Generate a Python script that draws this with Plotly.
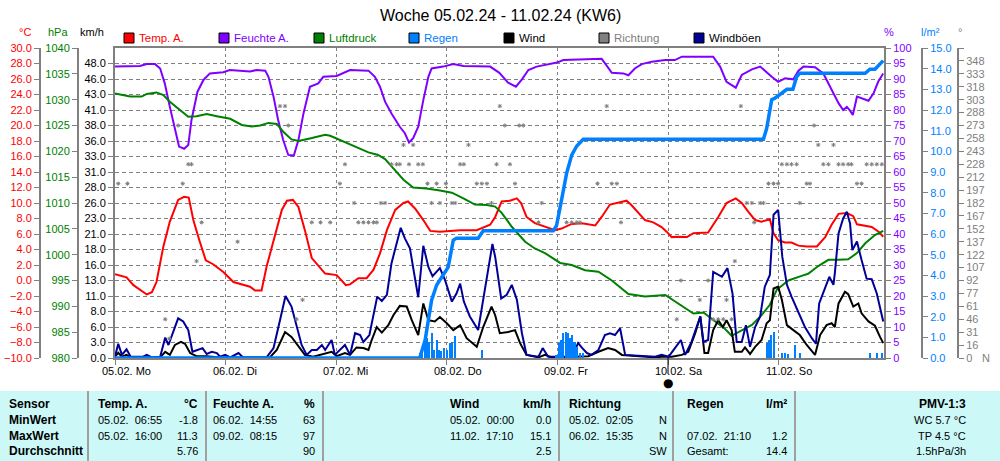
import pandas as pd
import plotly.graph_objects as go

# ---------------- data (hours since 05.02.24 00:00, value) ----------------
START = pd.Timestamp("2024-02-05 00:00")
END = pd.Timestamp("2024-02-11 22:52")

temperature = [(0, 0.8), (2.5, 0.4), (4.0, -0.6), (5.8, -1.4), (6.9, -1.8), (8.0, -1.5), (9.0, -0.2),
               (10.5, 4.4), (11.9, 7.6), (13.7, 10.4), (15.0, 10.8), (16.0, 10.7), (17.0, 7.8), (18.3, 5.2),
               (19.7, 2.6), (21.3, 2.1), (23.5, 1.1), (25.7, -0.2), (27.8, -0.6), (29.3, -0.8), (30.4, -1.3),
               (31.8, -1.3), (32.9, 1.8), (34.4, 5.2), (36.2, 9.1), (37.3, 10.3), (38.6, 10.4), (39.8, 9.5),
               (41.2, 6.5), (42.7, 2.9), (44.9, 1.4), (45.6, 0.9), (48.1, 0.7), (50.1, -0.6), (51.0, -0.5),
               (52.8, 0.3), (54.6, 0.3), (56.1, 1.4), (57.5, 3.5), (59.0, 6.5), (60.8, 9.1), (62.6, 10.0),
               (63.6, 10.2), (65.1, 9.3), (66.9, 7.8), (68.4, 6.4), (70.5, 6.3), (74.9, 6.5), (78.5, 6.5),
               (81.4, 7.2), (82.5, 8.2), (83.9, 10.2), (85.7, 10.3), (87.2, 10.6), (88.1, 10.0), (89.3, 8.2),
               (91.1, 7.4), (93.3, 6.9), (95.5, 6.5), (96.9, 6.7), (99.1, 7.3), (101.3, 7.4), (104.2, 7.1),
               (105.6, 8.2), (107.4, 9.8), (109.6, 10.1), (111.0, 10.3), (112.1, 9.7), (113.6, 8.7),
               (115.0, 7.8), (116.8, 7.5), (118.6, 6.9), (119.7, 6.3), (120.8, 5.6), (122.2, 5.65),
               (124.1, 5.6), (125.5, 6.1), (128.7, 6.2), (130.9, 8.2), (132.7, 10.0), (134.7, 10.6),
               (136.0, 10.0), (137.4, 8.9), (138.9, 7.8), (140.3, 7.6), (142.1, 7.9), (142.9, 6.1),
               (143.9, 5.2), (145.4, 4.9), (146.8, 4.9), (148.3, 4.5), (150.1, 4.4), (152.3, 4.4),
               (154.1, 5.6), (155.5, 7.2), (157.0, 8.6), (158.8, 8.7), (160.2, 8.3), (161.0, 7.25),
               (162.8, 7.0), (164.2, 6.9), (165.7, 6.3), (166.7, 5.65)]

humidity = [(0, 94), (5.4, 94.2), (6.9, 94.8), (8.7, 94.8), (9.8, 93.4), (10.8, 88.6), (11.9, 81),
            (13.0, 73.5), (13.9, 68.2), (15.0, 67.5), (15.9, 68.7), (16.6, 76.8), (17.9, 85.9), (19.2, 89.7),
            (20.6, 91.8), (23.5, 92.2), (24.9, 92.9), (29.3, 92.4), (30.7, 92.9), (32.6, 92.7), (33.3, 90.7),
            (34.4, 84.3), (35.4, 76.8), (36.5, 70.3), (37.6, 65.5), (38.8, 65.3), (39.8, 70.3), (40.9, 78.9),
            (42.3, 87.5), (44.1, 88.6), (45.2, 90.7), (48.1, 91), (49.5, 91.8), (51.0, 92.9), (55.0, 92.7),
            (56.4, 90.7), (57.5, 87.5), (58.6, 82.7), (60.0, 78.9), (61.8, 74.6), (62.9, 72.5), (63.8, 69.5),
            (64.7, 70.9), (65.8, 74.6), (66.9, 83.2), (68.0, 90.7), (68.7, 93.4), (71.2, 94), (73.4, 94.8),
            (75.6, 94.2), (81.4, 94), (83.4, 92), (85.3, 88.8), (87.0, 87.5), (88.3, 89.9), (89.7, 92.9),
            (91.5, 94), (94.0, 94.8), (95.9, 95.3), (97.3, 96.1), (105.6, 96.5), (106.3, 95.1), (107.8, 92),
            (110.3, 91.8), (111.4, 91.2), (112.8, 93.4), (114.3, 94.8), (116.5, 95.6), (119.4, 96.1),
            (121.5, 96.1), (123.0, 97.2), (129.8, 97.2), (131.3, 94), (132.7, 89.1), (134.7, 87.2),
            (136.0, 91.3), (138.2, 93.1), (140.0, 94), (141.1, 92.4), (142.5, 90.7), (143.9, 89.1),
            (145.4, 90.2), (147.2, 89.9), (148.3, 92.7), (149.4, 94), (151.9, 93.8), (153.7, 91.8),
            (155.5, 86.5), (157.0, 82.2), (158.0, 80), (158.8, 81), (159.5, 79.8), (160.1, 78.4),
            (161.0, 84.3), (162.0, 83.8), (163.5, 83), (164.6, 85.4), (165.6, 89.1), (166.7, 91.8)]

pressure = [(0, 1031.2), (3.3, 1030.6), (5.8, 1030.6), (6.9, 1031.1), (9.0, 1031.4), (10.5, 1030.9),
            (11.9, 1029.6), (14.1, 1027.9), (15.9, 1026.7), (17.7, 1026.8), (19.9, 1027.2), (22.1, 1026.8),
            (25.0, 1026.3), (27.5, 1025.1), (29.7, 1024.8), (31.5, 1025.0), (33.3, 1025.5), (35.1, 1025.3),
            (36.5, 1023.8), (38.3, 1022.3), (39.8, 1022.0), (42.3, 1022.5), (45.6, 1023.2), (46.7, 1023.0),
            (48.8, 1022.2), (51.0, 1021.4), (52.8, 1020.6), (55.0, 1019.8), (57.1, 1019.3), (58.6, 1018.5),
            (60.4, 1016.7), (62.6, 1014.5), (64.7, 1013.0), (67.6, 1012.8), (70.5, 1012.4), (73.1, 1012.0),
            (75.6, 1010.9), (78.1, 1009.7), (80.7, 1009.6), (82.5, 1009.3), (83.9, 1008.1), (86.1, 1005.4),
            (89.0, 1002.5), (91.1, 1001.2), (93.3, 1000.3), (96.6, 998.4), (99.1, 998.0), (102.0, 997.0),
            (104.9, 996.7), (107.8, 995.0), (111.4, 992.4), (115.0, 991.9), (119.4, 992.2), (122.2, 990.6),
            (125.5, 988.6), (127.7, 988.8), (130.2, 987.0), (132.4, 985.6), (133.8, 984.3), (136.0, 985.3),
            (138.2, 986.4), (140.3, 988.3), (142.1, 990.3), (143.6, 993.2), (146.1, 995.0), (149.0, 995.9),
            (150.4, 996.3), (152.6, 997.8), (154.8, 999.0), (157.0, 999.0), (159.1, 999.1), (161.0, 1000.3),
            (162.8, 1002.2), (164.9, 1003.8), (166.7, 1004.6)]

rain_total = [(0, 0), (66.0, 0), (66.2, 0.06), (67.3, 0.87), (68.0, 1.84), (68.7, 2.8), (69.8, 3.53),
              (71.2, 4.0), (72.3, 4.4), (73.4, 5.7), (74.1, 5.8), (78.8, 5.8), (79.9, 6.16), (95.1, 6.16),
              (95.8, 6.4), (96.9, 7.65), (98.0, 8.94), (99.1, 9.82), (100.2, 10.26), (101.6, 10.58),
              (140.7, 10.58), (141.4, 11.1), (142.5, 12.5), (143.2, 12.57), (144.7, 12.8), (145.8, 13.0),
              (147.1, 13.0), (147.9, 13.6), (148.6, 13.78), (162.8, 13.78), (163.8, 13.97), (164.9, 13.97),
              (166.7, 14.39)]

rain_rate = [(66.2, 0.23), (66.7, 0.47), (67.3, 0.87), (67.8, 0.97), (68.2, 0.79), (68.7, 1.2), (69.2, 0.4),
             (69.8, 0.87), (70.3, 0.4), (70.7, 0.32), (71.4, 0.47), (72.0, 0.4), (72.7, 0.71), (73.2, 0.79),
             (73.8, 1.06), (79.6, 0.4), (95.8, 0.15), (96.3, 0.71), (96.8, 0.87), (97.3, 1.19), (97.8, 1.27),
             (98.2, 1.19), (98.7, 0.95), (99.2, 1.11), (99.7, 0.79), (100.2, 0.55), (100.9, 0.23),
             (101.6, 0.23), (141.4, 0.71), (141.9, 0.87), (142.4, 1.11), (142.9, 1.27), (144.7, 0.23),
             (145.4, 0.23), (146.1, 0.2), (147.6, 0.63), (148.7, 0.23), (163.8, 0.23), (165.3, 0.23),
             (166.4, 0.23)]

wind = [(0, 0.2), (0.7, 0.85), (1.5, 0.2), (2.5, 0.5), (3.3, 0.1), (9.8, 0.1), (10.9, 1.0), (11.9, 0.5),
        (13.0, 2.1), (14.3, 2.6), (15.2, 2.3), (16.3, 0.8), (17.7, 0.3), (19.9, 0.3), (22.8, 0.1), (33.6, 0.1),
        (35.1, 1.3), (36.9, 4.2), (38.3, 3.4), (39.8, 1.8), (41.2, 0.5), (43.0, 0.2), (45.2, 0.65), (47.0, 1.0),
        (48.1, 0.3), (49.9, 0.8), (51.0, 0.5), (52.4, 1.7), (53.9, 1.6), (55.0, 1.3), (55.7, 2.9), (56.8, 5.0),
        (57.9, 4.1), (59.3, 5.3), (60.4, 6.9), (61.8, 8.4), (63.3, 8.3), (64.4, 6.1), (65.8, 3.7), (66.9, 8.8),
        (68.0, 6.1), (69.4, 5.9), (70.5, 6.6), (72.0, 5.6), (73.4, 4.5), (74.9, 5.3), (76.3, 3.2), (78.5, 1.8),
        (79.9, 5.0), (81.7, 8.3), (82.5, 6.9), (83.5, 4.0), (85.3, 4.2), (86.8, 4.5), (87.9, 2.4), (89.3, 0.5),
        (91.9, 0.1), (93.3, 0.5), (94.8, 0.1), (102.7, 0.3), (104.9, 1.0), (107.0, 1.6), (108.5, 1.3),
        (110.0, 0.5), (117.2, 0.1), (118.6, 0.2), (120.8, 0.2), (123.0, 0.5), (124.4, 1.0), (125.9, 4.0),
        (127.0, 6.7), (127.9, 0.8), (128.7, 0.8), (129.8, 4.5), (130.9, 6.1), (131.9, 5.0), (132.7, 6.1),
        (133.8, 4.5), (134.5, 1.0), (136.0, 1.0), (136.7, 1.7), (137.8, 0.65), (138.9, 1.8), (140.3, 2.9),
        (141.4, 5.6), (142.1, 6.1), (142.9, 11.2), (143.9, 11.5), (144.7, 9.4), (145.8, 5.3), (147.2, 4.5),
        (148.6, 3.7), (150.1, 2.1), (151.9, 0.5), (153.0, 3.7), (154.4, 5.3), (155.5, 5.6), (156.2, 5.0),
        (157.0, 8.8), (158.4, 10.7), (159.1, 10.3), (160.2, 8.3), (161.3, 8.8), (162.0, 7.2), (163.5, 5.9),
        (164.9, 5.2), (166.0, 3.4), (166.7, 2.4)]

gusts = [(0, 0.2), (0.7, 2.3), (1.5, 0.5), (2.5, 1.4), (3.4, 0.2), (6.1, 0.2), (6.9, 0.5), (8.0, 0.1),
         (9.8, 0.2), (10.9, 3.3), (11.6, 2.1), (12.7, 4.5), (13.7, 6.4), (14.8, 5.9), (15.9, 4.5), (16.8, 1.0),
         (18.1, 1.3), (19.0, 1.6), (19.9, 0.65), (21.0, 1.0), (22.1, 0.8), (22.8, 0.2), (23.9, 0.5), (25.0, 0.1),
         (26.8, 0.8), (27.8, 0.1), (32.9, 0.1), (34.4, 1.6), (35.8, 6.1), (37.0, 10.0), (38.3, 8.3), (39.4, 5.0),
         (40.5, 2.1), (41.6, 0.5), (42.7, 1.3), (43.8, 1.3), (44.9, 2.1), (45.6, 1.3), (47.0, 2.9), (47.7, 0.5),
         (48.8, 1.3), (49.9, 2.1), (51.0, 0.5), (52.1, 4.0), (53.2, 3.7), (53.9, 2.6), (55.2, 3.7), (56.1, 7.2),
         (56.9, 9.9), (57.9, 9.2), (59.0, 10.2), (60.0, 15.3), (61.0, 18.0), (62.0, 21.0), (62.9, 19.3),
         (64.0, 17.7), (64.9, 13.7), (65.8, 9.8), (66.9, 18.1), (68.0, 14.7), (68.9, 13.2), (70.5, 14.5),
         (71.6, 12.6), (73.1, 9.1), (74.1, 10.4), (74.9, 12.0), (75.7, 9.1), (77.0, 6.7), (78.8, 4.5),
         (80.3, 11.0), (81.9, 18.4), (82.5, 16.3), (83.8, 9.6), (85.0, 10.2), (86.1, 11.8), (87.2, 9.4),
         (88.3, 4.0), (89.3, 0.5), (91.9, 0.2), (92.8, 1.6), (94.0, 0.2), (99.1, 0.2), (100.5, 2.4),
         (101.4, 1.6), (102.4, 0.8), (103.4, 0.5), (104.9, 1.3), (106.3, 3.7), (107.4, 4.0), (108.5, 3.7),
         (109.6, 4.8), (110.7, 0.5), (117.2, 0.2), (118.6, 0.5), (120.1, 0.2), (121.5, 1.6), (122.8, 2.9),
         (123.7, 0.5), (125.1, 2.6), (126.2, 5.0), (127.0, 6.7), (127.7, 2.6), (128.7, 2.9), (129.8, 13.9),
         (131.7, 13.1), (132.9, 14.5), (134.0, 10.4), (134.9, 2.6), (136.0, 2.6), (136.9, 5.3), (137.8, 1.8),
         (138.9, 5.0), (140.0, 6.7), (141.0, 11.5), (142.1, 13.4), (142.9, 23.1), (143.9, 23.9), (144.8, 16.3),
         (145.8, 11.8), (146.8, 9.9), (148.3, 7.2), (149.7, 5.0), (151.2, 3.2), (152.1, 2.3), (152.8, 8.8),
         (154.1, 11.5), (155.0, 13.1), (155.9, 11.8), (156.2, 13.7), (157.0, 20.1), (158.0, 22.5),
         (158.8, 23.6), (159.5, 21.7), (160.0, 17.4), (161.0, 18.8), (162.0, 15.8), (163.1, 12.8),
         (164.2, 12.7), (165.3, 10.4), (166.7, 5.9)]

direction = [(0.7, 202.5), (2.7, 202.5), (10.9, 45), (11.8, 22.5), (13.7, 270), (14.7, 202.5), (15.9, 225),
             (16.6, 225), (17.7, 112.5), (18.8, 157.5), (26.6, 135), (35.8, 292.5), (36.9, 292.5), (37.6, 270),
             (39.4, 45), (40.7, 67.5), (42.7, 157.5), (44.6, 157.5), (46.7, 157.5), (48.8, 202.5), (49.9, 225),
             (51.9, 180), (52.8, 157.5), (53.9, 157.5), (55.0, 157.5), (56.1, 157.5), (56.8, 157.5), (57.7, 180),
             (58.6, 180), (60.0, 225), (61.1, 225), (61.8, 225), (62.6, 247.5), (63.8, 225), (64.7, 247.5),
             (65.8, 225), (66.8, 225), (67.8, 202.5), (68.7, 180), (69.8, 202.5), (70.5, 180), (71.8, 202.5),
             (73.1, 180), (73.8, 180), (74.9, 225), (75.7, 225), (76.7, 247.5), (78.5, 202.5), (79.6, 202.5),
             (80.7, 202.5), (81.7, 180), (82.8, 225), (83.5, 292.5), (84.6, 270), (85.7, 225), (86.8, 202.5),
             (87.7, 270), (88.6, 270), (91.9, 157.5), (92.6, 180), (98.0, 157.5), (99.1, 157.5), (100.2, 157.5),
             (100.9, 157.5), (104.7, 202.5), (106.7, 292.5), (107.8, 202.5), (108.9, 202.5), (109.8, 157.5),
             (121.9, 45), (122.8, 90), (126.9, 67.5), (128.7, 90), (129.8, 45), (130.9, 45), (132.0, 45),
             (132.7, 67.5), (133.8, 45), (134.5, 112.5), (135.8, 292.5), (137.1, 180), (138.2, 180),
             (138.7, 157.5), (140.0, 180), (140.7, 180), (141.8, 202.5), (142.9, 202.5), (143.9, 202.5),
             (144.7, 225), (145.8, 225), (146.8, 225), (147.9, 225), (148.6, 180), (150.1, 202.5),
             (150.8, 202.5), (151.7, 270), (152.6, 247.5), (153.7, 225), (154.8, 225), (155.9, 247.5),
             (157.0, 225), (158.0, 225), (159.1, 225), (159.8, 225), (161.0, 202.5), (162.0, 202.5),
             (163.1, 225), (164.2, 225), (165.3, 225), (166.4, 225)]

day_ticks = ["2024-02-05", "2024-02-06", "2024-02-07", "2024-02-08", "2024-02-09", "2024-02-10", "2024-02-11"]
day_labels = ["05.02. Mo", "06.02. Di", "07.02. Mi", "08.02. Do", "09.02. Fr", "10.02. Sa", "11.02. So"]
moon_day = "2024-02-10"

wind_tick_text = ["0.0", "3.0", "6.0", "8.0", "11.0", "13.0", "16.0", "18.0", "21.0", "23.0", "26.0", "28.0",
                  "31.0", "33.0", "36.0", "38.0", "41.0", "43.0", "46.0", "48.0"]
dir_tick_text = ["0", "16", "31", "46", "61", "77", "92", "107", "122", "137", "152", "167", "182", "197",
                 "212", "228", "243", "258", "273", "288", "303", "318", "333", "348", ""]

legend_names = ["Temp. A.", "Feuchte A.", "Luftdruck", "Regen", "Wind", "Richtung", "Windböen"]
legend_fill = ["#ff0000", "#8000ff", "#008000", "#0080ff", "#000000", "#808080", "#000099"]
legend_text = ["#ff0000", "#8000ff", "#008000", "#0080ff", "#000000", "#808080", "#000000"]

title_text = "Woche 05.02.24 - 11.02.24 (KW6)"

table_rows = ["Sensor", "MinWert", "MaxWert", "Durchschnitt"]
table_temp = ["Temp. A.", "05.02.\u00a0\u00a006:55", "05.02.\u00a0\u00a016:00", ""]
table_temp_val = ["°C", "-1.8", "11.3", "5.76"]
table_hum = ["Feuchte A.", "06.02.\u00a0\u00a014:55", "09.02.\u00a0\u00a008:15", ""]
table_hum_val = ["%", "63", "97", "90"]
table_wind = ["Wind", "05.02.\u00a0\u00a000:00", "11.02.\u00a0\u00a017:10", ""]
table_wind_val = ["km/h", "0.0", "15.1", "2.5"]
table_dir = ["Richtung", "05.02.\u00a0\u00a002:05", "06.02.\u00a0\u00a015:35", ""]
table_dir_val = ["", "N", "N", "SW"]
table_rain = ["Regen", "", "07.02.\u00a0\u00a021:10", "Gesamt:"]
table_rain_val = ["l/m²", "", "1.2", "14.4"]
table_pmv = ["PMV-1:3", "WC 5.7 °C", "TP 4.5 °C", "1.5hPa/3h"]

# ---------------- helpers ----------------
def times(series):
    return [START + pd.Timedelta(hours=h) for h, _ in series]

def vals(series):
    return [v for _, v in series]

W, H = 1000, 461
PT, PB = 48, 358           # plot top / bottom in pixels
def fx(px):
    return px / W
def fy(py):
    return (PB - py) / (PB - PT)

FONT = "Liberation Sans, Arial, sans-serif"
FS = 11
AX = "#808080"

fig = go.Figure()

fig.add_trace(go.Bar(x=times(rain_rate), y=vals(rain_rate), yaxis="y5", marker_color="#0080ff",
                     marker_line_width=0, width=0.45 * 3600 * 1000))
fig.add_trace(go.Scatter(x=times(direction), y=vals(direction), yaxis="y6", mode="markers",
                         marker=dict(symbol="asterisk-open", size=3.5, color="#808080",
                                     line=dict(color="#808080", width=1))))
fig.add_trace(go.Scatter(x=times(pressure), y=vals(pressure), yaxis="y3", mode="lines",
                         line=dict(color="#008000", width=2)))
fig.add_trace(go.Scatter(x=times(temperature), y=vals(temperature), yaxis="y2", mode="lines",
                         line=dict(color="#ff0000", width=2)))
fig.add_trace(go.Scatter(x=times(humidity), y=vals(humidity), yaxis="y", mode="lines",
                         line=dict(color="#8000ff", width=2)))
fig.add_trace(go.Scatter(x=times(wind), y=vals(wind), yaxis="y4", mode="lines",
                         line=dict(color="#000000", width=2)))
fig.add_trace(go.Scatter(x=times(gusts), y=vals(gusts), yaxis="y4", mode="lines",
                         line=dict(color="#000099", width=2)))
fig.add_trace(go.Scatter(x=times(rain_total), y=vals(rain_total), yaxis="y5", mode="lines",
                         line=dict(color="#0080ff", width=3.5)))

tickfont = lambda c: dict(family=FONT, size=FS, color=c)

common = dict(showline=True, linecolor=AX, linewidth=2, ticks="outside", ticklen=5, tickcolor=AX,
              zeroline=False, fixedrange=True)

fig.update_layout(
    width=W, height=H, margin=dict(l=0, r=0, t=PT, b=H - PB),
    paper_bgcolor="white", plot_bgcolor="white", showlegend=False,
    font=dict(family=FONT, size=FS), bargap=0,
    xaxis=dict(type="date", domain=[fx(115), fx(884)], range=[START, END],
               tickvals=day_ticks, showticklabels=False, ticks="outside", ticklen=5, tickcolor=AX,
               showgrid=True, gridcolor=AX, gridwidth=1, griddash="3px,3px",
               showline=True, linecolor=AX, linewidth=2, mirror=True, zeroline=False),
    yaxis=dict(range=[0, 100], dtick=5, side="right", anchor="x", tickfont=tickfont("#8000ff"),
               showgrid=True, gridcolor=AX, gridwidth=1, griddash="4px,3px", **common),
    yaxis2=dict(range=[-10, 30], dtick=2, tickformat=".1f", overlaying="y", anchor="free",
                position=fx(40), side="left", tickfont=tickfont("#ff0000"), showgrid=False, **common),
    yaxis3=dict(range=[980, 1040], dtick=5, overlaying="y", anchor="free", position=fx(78),
                side="left", tickfont=tickfont("#008000"), showgrid=False, **common),
    yaxis4=dict(range=[0, 50], tickmode="array", tickvals=[2.5 * i for i in range(len(wind_tick_text))],
                ticktext=wind_tick_text, overlaying="y", anchor="x", side="left",
                tickfont=tickfont("#000000"), showgrid=False, **common),
    yaxis5=dict(range=[0, 15], dtick=1, tickformat=".1f", overlaying="y", anchor="free",
                position=fx(922), side="right", tickfont=tickfont("#0080ff"), showgrid=False, **common),
    yaxis6=dict(range=[0, 360], tickmode="array", tickvals=[15 * i for i in range(len(dir_tick_text))],
                ticktext=dir_tick_text, overlaying="y", anchor="free", position=fx(958), side="right",
                tickfont=tickfont("#808080"), showgrid=False, **common),
)

shapes = []
annotations = []

# title
annotations.append(dict(text=title_text, xref="paper", yref="paper", x=0.5, y=fy(15), showarrow=False,
                        xanchor="center", yanchor="middle",
                        font=dict(family="Liberation Sans, Arial", size=16, color="#000000")))

# axis unit titles
for txt, px, col in [("°C", 25, "#ff0000"), ("hPa", 58, "#008000"), ("km/h", 92, "#000000"),
                     ("%", 889, "#8000ff"), ("l/m²", 930, "#0080ff"), ("°", 960, "#808080")]:
    annotations.append(dict(text=txt, xref="paper", yref="paper", x=fx(px), y=fy(32), showarrow=False,
                            xanchor="center", yanchor="middle", font=dict(family=FONT, size=FS, color=col)))
annotations.append(dict(text="N", xref="paper", yref="paper", x=fx(980), y=fy(358), showarrow=False,
                        xanchor="left", yanchor="middle", font=dict(family=FONT, size=FS, color="#808080")))

# legend
for i, (name, fill, tcol) in enumerate(zip(legend_names, legend_fill, legend_text)):
    x0 = 124 + 95 * i
    shapes.append(dict(type="rect", xref="paper", yref="paper", x0=fx(x0), x1=fx(x0 + 10),
                       y0=fy(43), y1=fy(33), fillcolor=fill, line=dict(color="#000000", width=1)))
    annotations.append(dict(text=name, xref="paper", yref="paper", x=fx(x0 + 13), y=fy(38), showarrow=False,
                            xanchor="left", yanchor="middle", font=dict(family=FONT, size=FS + 0.5, color=tcol)))

# x tick labels
for d, lab in zip(day_ticks, day_labels):
    annotations.append(dict(text=lab, xref="x", yref="paper", x=d, xshift=-15, y=fy(371), showarrow=False,
                            xanchor="left", yanchor="middle", font=dict(family=FONT, size=FS, color="#000000")))

# moon marker
shapes.append(dict(type="line", xref="x", yref="paper", x0=moon_day, x1=moon_day, y0=fy(358), y1=fy(374),
                   line=dict(color="#000000", width=1)))
annotations.append(dict(text="●", xref="x", yref="paper", x=moon_day, y=fy(383), showarrow=False,
                        xanchor="center", yanchor="middle", font=dict(family="DejaVu Sans", size=12, color="#000000")))

# bottom table
shapes.append(dict(type="rect", xref="paper", yref="paper", x0=0, x1=1, y0=fy(461), y1=fy(391),
                   fillcolor="#ccf8f8", line=dict(width=0), layer="below"))
for sx in [88, 206, 323, 559, 673, 795]:
    shapes.append(dict(type="line", xref="paper", yref="paper", x0=fx(sx), x1=fx(sx), y0=fy(461), y1=fy(391),
                       line=dict(color="#a0a0a0", width=2)))

row_y = [404, 420, 436, 451]
BF = dict(family="Liberation Sans, Arial", size=12, color="#000000")
NF = dict(family="Liberation Sans, Arial", size=11, color="#000000")

def cell(text, px, py, anchor, bold):
    if text == "":
        return
    t = "<b>%s</b>" % text if bold else text
    annotations.append(dict(text=t, xref="paper", yref="paper", x=fx(px), y=fy(py), showarrow=False,
                            xanchor=anchor, yanchor="middle", font=BF if bold else NF))

for r in range(4):
    yy = row_y[r]
    hdr = (r == 0)
    cell(table_rows[r], 7, yy, "left", True)
    cell(table_temp[r], 96, yy, "left", hdr)
    cell(table_temp_val[r], 200, yy, "right", hdr)
    cell(table_hum[r], 211, yy, "left", hdr)
    cell(table_hum_val[r], 317, yy, "right", hdr)
    cell(table_wind[r], 448, yy, "left", hdr)
    cell(table_wind_val[r], 553, yy, "right", hdr)
    cell(table_dir[r], 567, yy, "left", hdr)
    cell(table_dir_val[r], 669, yy, "right", hdr)
    cell(table_rain[r], 685, yy, "left", hdr)
    cell(table_rain_val[r], 789, yy, "right", hdr)
    cell(table_pmv[r], 968, yy, "right", hdr)

fig.update_layout(shapes=shapes, annotations=annotations)
fig.write_html("out.html", config={"displayModeBar": False},
               post_script="document.body.style.margin='0';document.body.style.overflow='hidden';")
